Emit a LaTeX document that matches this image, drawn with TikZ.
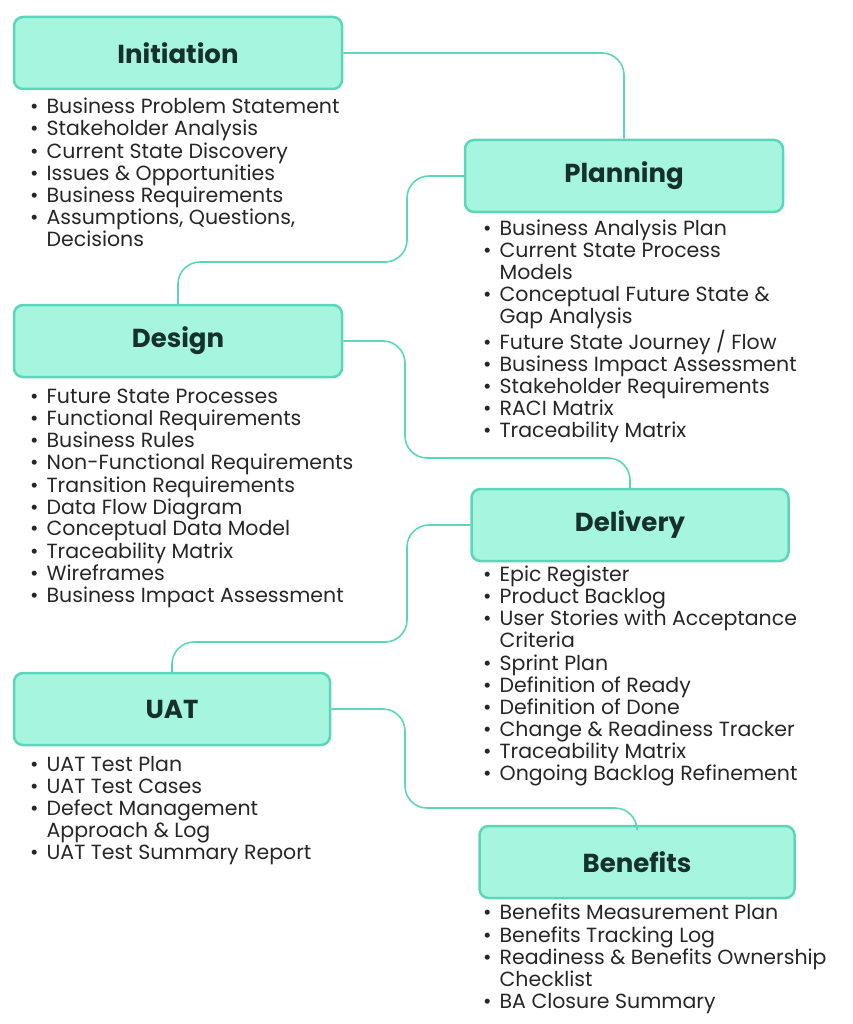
\documentclass[tikz,border=0pt]{standalone}
\usepackage{fontspec}
\setmainfont{Poppins}
\usetikzlibrary{positioning}
\definecolor{boxfill}{HTML}{A6F5DF}
\definecolor{boxline}{HTML}{5CD6B9}
\definecolor{inkdark}{HTML}{16302A}
\newcommand{\bl}{\textbullet}
\tikzset{
phase/.style={draw=boxline, line width=2.5pt, fill=boxfill, rounded corners=9pt,
  minimum width=316pt, minimum height=72pt, text=inkdark,
  font=\fontsize{26}{30}\selectfont\bfseries}, % the phase boxes
items/.style={anchor=north west, inner sep=0pt, text=black!85,
  font=\fontsize{20.5}{21.8}\selectfont}, % bullet lists
link/.style={draw=boxline, line width=1.6pt, rounded corners=22pt}, % connectors
}
\begin{document}
\begin{tikzpicture}[x=1pt,y=-1pt]
\useasboundingbox (0,0) rectangle (852,1024);
\node[phase, minimum width=328pt] (init) at (178,53) {Initiation};
\node[phase, minimum width=318pt] (plan) at (624,176) {Planning};
\node[phase, minimum width=328pt] (design) at (178,341) {Design};
\node[phase, minimum width=317pt] (deliv) at (630,525) {Delivery};
\node[phase] (uat) at (172,709) {UAT};
\node[phase, minimum width=315pt] (bene) at (637,862) {Benefits};

\node[items] (initlist) at (30,98) {\begin{tabular}{@{}l@{\hspace{8pt}}l@{}}
\bl & Business Problem Statement\\
\bl & Stakeholder Analysis\\
\bl & Current State Discovery\\
\bl & Issues \& Opportunities\\
\bl & Business Requirements\\
\bl & Assumptions, Questions,\\
 & Decisions\end{tabular}};
\node[items] (planlist) at (483,220) {\begin{tabular}{@{}l@{\hspace{8pt}}l@{}}
\bl & Business Analysis Plan\\
\bl & Current State Process\\
 & Models\\
\bl & Conceptual Future State \&\\
 & Gap Analysis\\
\bl & Future State Journey / Flow\\
\bl & Business Impact Assessment\\
\bl & Stakeholder Requirements\\
\bl & RACI Matrix\\
\bl & Traceability Matrix\end{tabular}};
\node[items] (designlist) at (30,388) {\begin{tabular}{@{}l@{\hspace{8pt}}l@{}}
\bl & Future State Processes\\
\bl & Functional Requirements\\
\bl & Business Rules\\
\bl & Non-Functional Requirements\\
\bl & Transition Requirements\\
\bl & Data Flow Diagram\\
\bl & Conceptual Data Model\\
\bl & Traceability Matrix\\
\bl & Wireframes\\
\bl & Business Impact Assessment\end{tabular}};
\node[items] (delivlist) at (483,566) {\begin{tabular}{@{}l@{\hspace{8pt}}l@{}}
\bl & Epic Register\\
\bl & Product Backlog\\
\bl & User Stories with Acceptance\\
 & Criteria\\
\bl & Sprint Plan\\
\bl & Definition of Ready\\
\bl & Definition of Done\\
\bl & Change \& Readiness Tracker\\
\bl & Traceability Matrix\\
\bl & Ongoing Backlog Refinement\end{tabular}};
\node[items] (uatlist) at (30,756) {\begin{tabular}{@{}l@{\hspace{8pt}}l@{}}
\bl & UAT Test Plan\\
\bl & UAT Test Cases\\
\bl & Defect Management\\
 & Approach \& Log\\
\bl & UAT Test Summary Report\end{tabular}};
\node[items] (benelist) at (483,904) {\begin{tabular}{@{}l@{\hspace{8pt}}l@{}}
\bl & Benefits Measurement Plan\\
\bl & Benefits Tracking Log\\
\bl & Readiness \& Benefits Ownership\\
 & Checklist\\
\bl & BA Closure Summary\end{tabular}};

\draw[link] (init.east) -| (plan.north);
\draw[link] (plan.west) -- (407,176) |- (178,262) -- (design.north);
\draw[link] (design.east) -- (405,341) |- (630,458) -- (deliv.north);
\draw[link] (deliv.west) -- (407,525) |- (172,642) -- (uat.north);
\draw[link] (uat.east) -- (405,709) |- (637,808) -- (bene.north);
\end{tikzpicture}
\end{document}
